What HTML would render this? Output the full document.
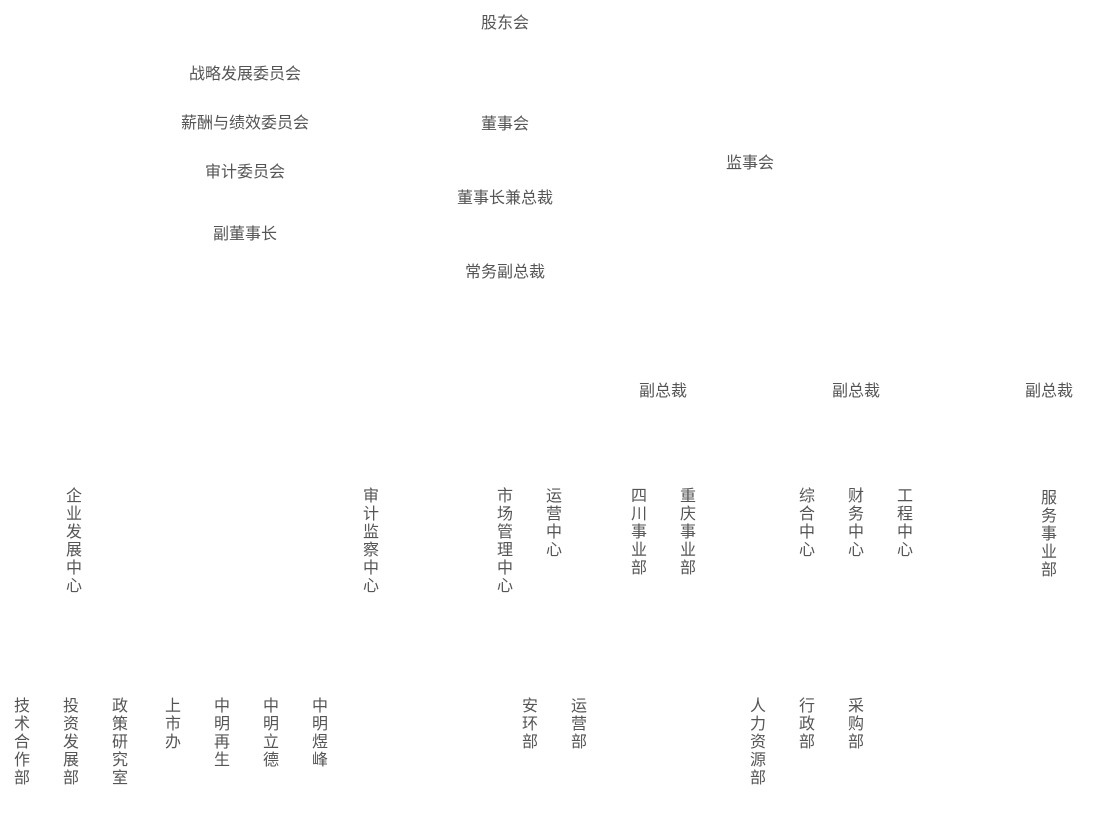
<!DOCTYPE html>
<html><head><meta charset="utf-8"><style>
body{margin:0;width:1104px;height:830px;background:#fff;position:relative;overflow:hidden;font-family:"Liberation Sans","Noto Sans CJK SC",sans-serif;color:#555;font-size:16px}
.h{position:absolute;transform:translate(-50%,-50%);white-space:nowrap;line-height:18px}
.v{position:absolute;width:16px;margin-left:-8px;line-height:18px;text-align:center;word-break:break-all}
</style></head><body>
<div class="h" style="left:505px;top:24px">股东会</div>
<div class="h" style="left:245px;top:75px">战略发展委员会</div>
<div class="h" style="left:245px;top:124px">薪酬与绩效委员会</div>
<div class="h" style="left:505px;top:125px">董事会</div>
<div class="h" style="left:245px;top:173px">审计委员会</div>
<div class="h" style="left:750px;top:164px">监事会</div>
<div class="h" style="left:505px;top:199px">董事长兼总裁</div>
<div class="h" style="left:245px;top:235px">副董事长</div>
<div class="h" style="left:505px;top:273px">常务副总裁</div>
<div class="h" style="left:663px;top:392px">副总裁</div>
<div class="h" style="left:856px;top:392px">副总裁</div>
<div class="h" style="left:1049px;top:392px">副总裁</div>

<div class="v" style="left:74px;top:488px">企业发展中心</div>
<div class="v" style="left:371px;top:488px">审计监察中心</div>
<div class="v" style="left:505px;top:488px">市场管理中心</div>
<div class="v" style="left:554px;top:488px">运营中心</div>
<div class="v" style="left:639px;top:488px">四川事业部</div>
<div class="v" style="left:688px;top:488px">重庆事业部</div>
<div class="v" style="left:807px;top:488px">综合中心</div>
<div class="v" style="left:856px;top:488px">财务中心</div>
<div class="v" style="left:905px;top:488px">工程中心</div>
<div class="v" style="left:1049px;top:490px">服务事业部</div>

<div class="v" style="left:22px;top:698px">技术合作部</div>
<div class="v" style="left:71px;top:698px">投资发展部</div>
<div class="v" style="left:120px;top:698px">政策研究室</div>
<div class="v" style="left:173px;top:698px">上市办</div>
<div class="v" style="left:222px;top:698px">中明再生</div>
<div class="v" style="left:271px;top:698px">中明立德</div>
<div class="v" style="left:320px;top:698px">中明煜峰</div>
<div class="v" style="left:530px;top:698px">安环部</div>
<div class="v" style="left:579px;top:698px">运营部</div>
<div class="v" style="left:758px;top:698px">人力资源部</div>
<div class="v" style="left:807px;top:698px">行政部</div>
<div class="v" style="left:856px;top:698px">采购部</div>
</body></html>
